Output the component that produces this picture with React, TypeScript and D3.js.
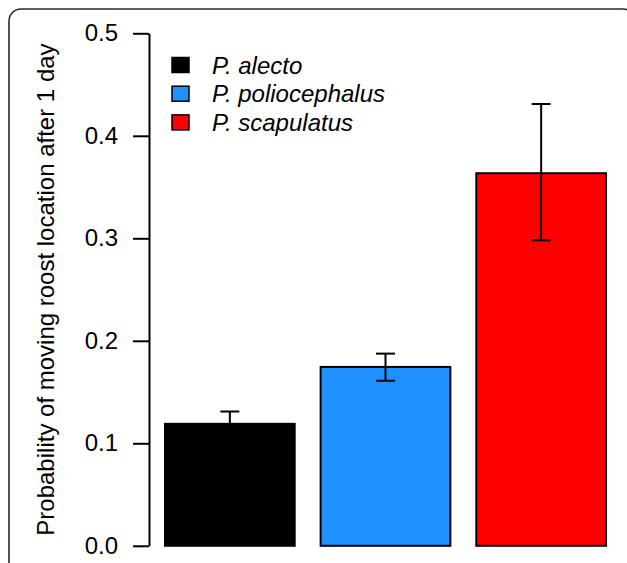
import React, { useEffect, useRef } from 'react';
import * as d3 from 'd3';

const species = ['P. alecto', 'P. poliocephalus', 'P. scapulatus'];
const probability = [0.119, 0.1745, 0.3635];
const errLower = [0.107, 0.161, 0.298];
const errUpper = [0.131, 0.1875, 0.431];
const barColors = ['#000000', '#1E90FF', '#FF0000'];
const yTicks = [0, 0.1, 0.2, 0.3, 0.4, 0.5];

const W = 627;
const H = 563;
const FONT = 'Liberation Sans, Arial, sans-serif';

export default function App() {
  const svgRef = useRef<SVGSVGElement>(null);

  useEffect(() => {
    const svg = d3.select(svgRef.current);
    svg.selectAll('*').remove();

    const x = d3.scaleBand<string>()
      .domain(species)
      .range([165, 606])
      .paddingInner(1 / 6)
      .paddingOuter(0);

    const y = d3.scaleLinear()
      .domain([0, 0.5])
      .range([545.8, 33.3]);

    // frame around the figure
    svg.append('rect')
      .attr('x', 9)
      .attr('y', 9)
      .attr('width', 626)
      .attr('height', 620)
      .attr('rx', 12)
      .attr('fill', 'none')
      .attr('stroke', '#2a2a2a')
      .attr('stroke-width', 1.6);

    const rows = species.map((s, i) => ({
      s, v: probability[i], lo: errLower[i], hi: errUpper[i], c: barColors[i]
    }));

    svg.selectAll('rect.bar')
      .data(rows)
      .enter()
      .append('rect')
      .attr('class', 'bar')
      .attr('x', d => x(d.s)!)
      .attr('y', d => y(d.v))
      .attr('width', x.bandwidth())
      .attr('height', d => y(0) - y(d.v))
      .attr('fill', d => d.c)
      .attr('stroke', '#000')
      .attr('stroke-width', 2);

    // error bars
    const eb = svg.selectAll('g.err')
      .data(rows)
      .enter()
      .append('g')
      .attr('class', 'err')
      .attr('stroke', '#000')
      .attr('stroke-width', 2);

    eb.append('line')
      .attr('x1', d => x(d.s)! + x.bandwidth() / 2)
      .attr('x2', d => x(d.s)! + x.bandwidth() / 2)
      .attr('y1', d => y(d.lo))
      .attr('y2', d => y(d.hi));
    eb.append('line')
      .attr('x1', d => x(d.s)! + x.bandwidth() / 2 - 9.5)
      .attr('x2', d => x(d.s)! + x.bandwidth() / 2 + 9.5)
      .attr('y1', d => y(d.hi))
      .attr('y2', d => y(d.hi));
    eb.append('line')
      .attr('x1', d => x(d.s)! + x.bandwidth() / 2 - 9.5)
      .attr('x2', d => x(d.s)! + x.bandwidth() / 2 + 9.5)
      .attr('y1', d => y(d.lo))
      .attr('y2', d => y(d.lo));

    const yAxis = d3.axisLeft(y)
      .tickValues(yTicks)
      .tickFormat(d3.format('.1f'))
      .tickSize(16)
      .tickSizeOuter(0)
      .tickPadding(15);

    const ax = svg.append('g')
      .attr('transform', 'translate(149,0)')
      .call(yAxis);
    ax.selectAll('path, line').attr('stroke', '#000').attr('stroke-width', 2);
    ax.selectAll('text')
      .attr('font-family', FONT)
      .attr('font-size', 24)
      .attr('fill', '#000');

    svg.append('text')
      .attr('transform', `translate(54,${(y(0) + y(0.5)) / 2}) rotate(-90)`)
      .attr('text-anchor', 'middle')
      .attr('font-family', FONT)
      .attr('font-size', 24)
      .attr('fill', '#000')
      .text('Probability of moving roost location after 1 day');

    const legend = svg.append('g');
    rows.forEach((d, i) => {
      const cy = 65 + i * 28.7;
      legend.append('rect')
        .attr('x', 172)
        .attr('y', cy - 7.5)
        .attr('width', 17)
        .attr('height', 15)
        .attr('fill', d.c)
        .attr('stroke', '#000')
        .attr('stroke-width', 1.5);
      legend.append('text')
        .attr('x', 212)
        .attr('y', cy + 8.5)
        .attr('font-family', FONT)
        .attr('font-size', 24)
        .attr('font-style', 'italic')
        .attr('fill', '#000')
        .text(d.s);
    });
  }, []);

  return (
    <svg
      ref={svgRef}
      width={W}
      height={H}
      style={{ position: 'absolute', left: 0, top: 0, background: '#fff' }}
    />
  );
}
